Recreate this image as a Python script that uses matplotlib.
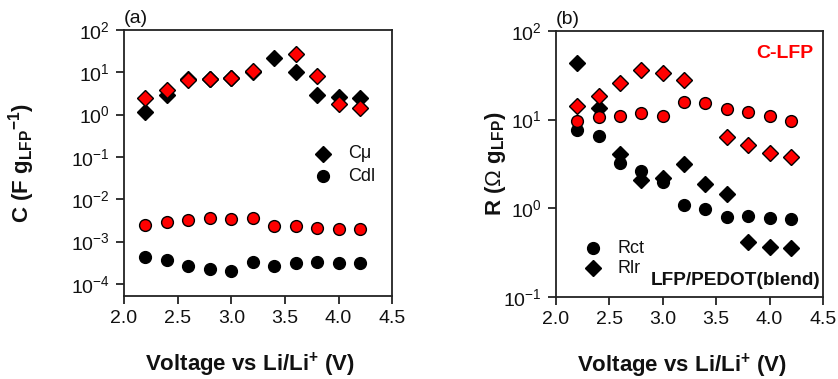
import numpy as np
import matplotlib
matplotlib.use("Agg")
import matplotlib.pyplot as plt
from matplotlib.ticker import LogLocator, FuncFormatter, NullLocator

plt.rcParams['font.family'] = ['Liberation Sans', 'DejaVu Sans']
plt.rcParams['mathtext.fontset'] = 'custom'
plt.rcParams['mathtext.rm'] = 'Liberation Sans'
plt.rcParams['mathtext.it'] = 'Liberation Sans:italic'
plt.rcParams['mathtext.bf'] = 'Liberation Sans:bold'

# ---- data ----
volt = [2.2, 2.4, 2.6, 2.8, 3.0, 3.2, 3.4, 3.6, 3.8, 4.0, 4.2]
volt_no34 = [2.2, 2.4, 2.6, 2.8, 3.0, 3.2, 3.6, 3.8, 4.0, 4.2]

# panel (a): capacitance
cmu_blend = [1.17, 2.9, 6.9, 7.1, 7.5, 10.0, 22.0, 10.3, 2.9, 2.65, 2.5]
cmu_clfp = [2.43, 3.8, 6.6, 6.8, 7.2, 10.7, 26.6, 8.3, 1.78, 1.46]
cdl_blend = [4.3e-4, 3.66e-4, 2.69e-4, 2.28e-4, 2.0e-4, 3.27e-4, 2.73e-4, 3.1e-4, 3.27e-4, 3.15e-4, 3.15e-4]
cdl_clfp = [2.5e-3, 2.9e-3, 3.2e-3, 3.66e-3, 3.47e-3, 3.66e-3, 2.29e-3, 2.3e-3, 2.12e-3, 1.98e-3, 1.95e-3]

# panel (b): resistance
rct_blend = [7.6, 6.6, 3.27, 2.6, 2.0, 1.09, 0.975, 0.80, 0.82, 0.77, 0.76]
rct_clfp = [9.7, 10.6, 11.0, 11.7, 10.9, 15.9, 15.5, 13.0, 12.0, 10.9, 9.7]
rlr_blend = [43.6, 13.4, 4.05, 2.08, 2.18, 3.15, 1.88, 1.45, 0.42, 0.364, 0.356]
rlr_clfp = [14.3, 18.5, 25.5, 36.0, 33.0, 27.9, 6.3, 5.16, 4.16, 3.81]

RED = '#ff0000'
TXT = '#111111'
DMS = 8     # diamond size
CMS = 8.5   # circle size


def log_fmt(v, pos):
    e = int(round(np.log10(v)))
    return r'$\mathregular{10^{%d}}$' % e


def style_axes(ax, ymin, ymax):
    ax.set_yscale('log')
    ax.set_xlim(2.0, 4.5)
    ax.set_ylim(ymin, ymax)
    ax.set_xticks([2.0, 2.5, 3.0, 3.5, 4.0, 4.5])
    ax.set_xticklabels(['2.0', '2.5', '3.0', '3.5', '4.0', '4.5'])
    ax.yaxis.set_major_locator(LogLocator(base=10, numticks=20))
    ax.yaxis.set_minor_locator(NullLocator())
    ax.yaxis.set_major_formatter(FuncFormatter(log_fmt))
    ax.tick_params(direction='out', length=6, width=1.2, labelsize=14,
                   colors=TXT, top=False, right=False, pad=4)
    for s in ax.spines.values():
        s.set_linewidth(1.3)
        s.set_color('#222222')


fig = plt.figure(figsize=(8.38, 3.79), dpi=100)

# ---------- panel (a) ----------
ax1 = fig.add_axes([0.148, 0.219, 0.320, 0.702])
ax1.plot(volt, cmu_blend, 'D', ms=DMS, mfc='black', mec='black', mew=1, ls='none')
ax1.plot(volt_no34, cmu_clfp, 'D', ms=DMS, mfc=RED, mec='black', mew=1, ls='none')
ax1.plot(volt, cdl_blend, 'o', ms=CMS, mfc='black', mec='black', mew=1, ls='none')
ax1.plot(volt, cdl_clfp, 'o', ms=CMS, mfc=RED, mec='black', mew=1, ls='none')
style_axes(ax1, 10 ** -4.284, 100)
ax1.set_ylabel(r'C (F g$_{\mathbf{LFP}}$$^{\mathbf{-1}}$)', fontsize=16, fontweight='bold',
               color=TXT)
ax1.yaxis.set_label_coords(-0.325, 0.5)
ax1.set_xlabel(r'Voltage vs Li/Li$^{\mathbf{+}}$ (V)', fontsize=16, fontweight='bold',
               color=TXT)
ax1.xaxis.set_label_coords(0.47, -0.205)
ax1.text(0.0, 1.01, '(a)', transform=ax1.transAxes, fontsize=14, color=TXT,
         ha='left', va='bottom')
# legend (a)
ax1.plot([3.856], [10 ** -0.93], 'D', ms=DMS, color='black')
ax1.plot([3.856], [10 ** -1.45], 'o', ms=CMS, color='black')
ax1.text(4.09, 10 ** -0.93, 'C\u03bc', fontsize=13, va='center', color=TXT)
ax1.text(4.09, 10 ** -1.45, 'Cdl', fontsize=13, va='center', color=TXT)

# ---------- panel (b) ----------
ax2 = fig.add_axes([0.6635, 0.216, 0.3185, 0.703])
ax2.plot(volt, rlr_blend, 'D', ms=DMS, mfc='black', mec='black', mew=1, ls='none')
ax2.plot(volt, rct_blend, 'o', ms=CMS, mfc='black', mec='black', mew=1, ls='none')
ax2.plot(volt, rct_clfp, 'o', ms=CMS, mfc=RED, mec='black', mew=1, ls='none')
ax2.plot(volt_no34, rlr_clfp, 'D', ms=DMS, mfc=RED, mec='black', mew=1, ls='none')
style_axes(ax2, 0.1, 100)
ax2.set_ylabel(r'R ($\Omega$ g$_{\mathbf{LFP}}$)', fontsize=16, fontweight='bold',
               color=TXT)
ax2.yaxis.set_label_coords(-0.18, 0.5)
ax2.set_xlabel(r'Voltage vs Li/Li$^{\mathbf{+}}$ (V)', fontsize=16, fontweight='bold',
               color=TXT)
ax2.xaxis.set_label_coords(0.47, -0.205)
ax2.text(0.0, 1.01, '(b)', transform=ax2.transAxes, fontsize=14, color=TXT,
         ha='left', va='bottom')
ax2.text(0.965, 0.916, 'C-LFP', transform=ax2.transAxes, fontsize=14, fontweight='bold',
         color=RED, ha='right', va='center')
ax2.text(0.99, 0.064, 'LFP/PEDOT(blend)', transform=ax2.transAxes, fontsize=13.7,
         fontweight='bold', color=TXT, ha='right', va='center')
# legend (b)
ax2.plot([2.346], [10 ** -0.447], 'o', ms=CMS, color='black')
ax2.plot([2.346], [10 ** -0.672], 'D', ms=DMS, color='black')
ax2.text(2.58, 10 ** -0.447, 'Rct', fontsize=13, va='center', color=TXT)
ax2.text(2.58, 10 ** -0.672, 'Rlr', fontsize=13, va='center', color=TXT)

fig.savefig('out.png', dpi=100, facecolor='white')
